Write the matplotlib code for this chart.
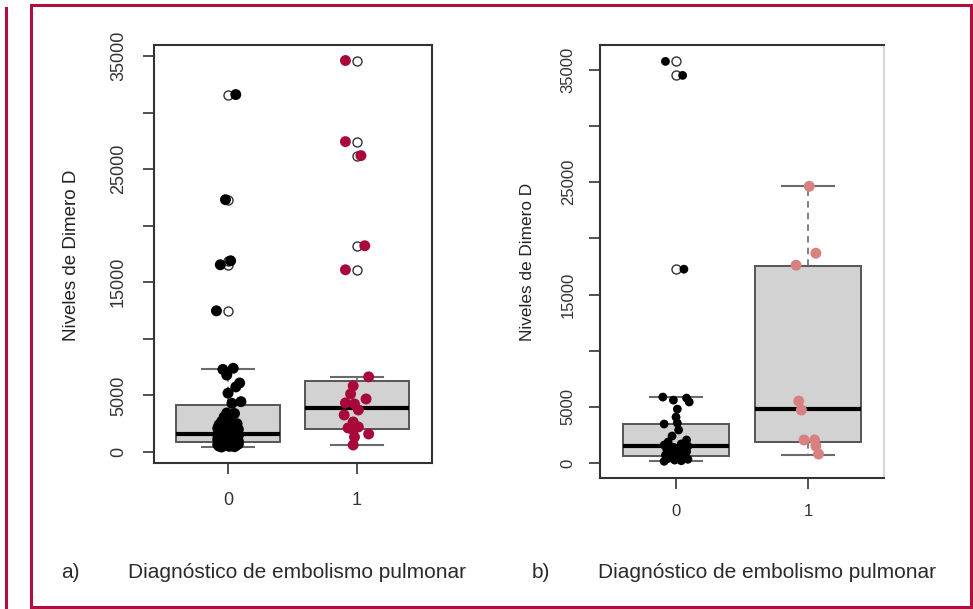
import matplotlib.pyplot as plt
from matplotlib.lines import Line2D
from matplotlib.patches import Rectangle

plt.rcParams['font.family'] = ['Liberation Sans', 'DejaVu Sans']

# ---- data ----
group_labels = ["0", "1"]
ytick_values = [0, 5000, 10000, 15000, 20000, 25000, 30000, 35000]
ytick_labels = ["0", "5000", "", "15000", "", "25000", "", "35000"]
caption = "Diagnóstico de embolismo pulmonar"
ylabel = "Niveles de Dimero D"

# panel a) box statistics (group 0, group 1)
a_whislo = [442, 620]
a_q1 = [885, 2035]
a_med = [1593, 3894]
a_q3 = [4159, 6283]
a_whishi = [7345, 6640]
a_outliers_0 = [31593, 22300, 16900, 16550, 12478]
a_outliers_1 = [34602, 27434, 26195, 18230, 16106]

# panel a) jittered points
a_vals_0 = [31593, 22300, 16900, 16550, 12478,
            7400, 7300, 6800, 6100, 5750, 5200, 4450, 4300,
            3450, 3400, 3100, 2900, 2700, 2500, 2400, 2200, 2100, 2000, 1900, 1800, 1700,
            1550, 1500, 1450, 1400, 1300, 1250, 1200, 1150, 1100, 1050, 1000, 950, 900,
            850, 800, 780, 750, 700, 650, 620, 600, 560, 520, 500, 470, 442]
a_jit_0 = [0.06, -0.02, 0.02, -0.06, -0.09,
           0.04, -0.04, -0.01, 0.09, 0.06, 0.0, 0.10, 0.03,
           -0.01, 0.05, -0.03, 0.02, -0.05, 0.07, -0.07, 0.01, -0.08, 0.08, -0.04, 0.05, -0.07,
           0.03, -0.08, 0.08, -0.02, 0.06, -0.06, 0.0, 0.07, -0.08, 0.04, -0.04, 0.08, -0.07,
           0.02, -0.06, 0.07, -0.01, 0.08, -0.08, 0.04, -0.03, 0.06, -0.07, 0.01, 0.05, -0.05]
a_vals_1 = [34602, 27434, 26195, 18230, 16106,
            6640, 5841, 5133, 4690, 4336, 4250, 3717, 3274, 2655, 2212,
            2124, 1947, 1593, 1327, 619]
a_jit_1 = [-0.09, -0.09, 0.03, 0.06, -0.09,
           0.09, -0.03, -0.05, 0.07, -0.09, -0.02, 0.01, -0.10, -0.03, 0.01,
           -0.07, -0.03, 0.09, -0.02, -0.03]

# panel b) box statistics
b_whislo = [150, 712]
b_q1 = [623, 1868]
b_med = [1512, 4804]
b_q3 = [3470, 17527]
b_whishi = [5872, 24644]
b_outliers_0 = [35765, 34520, 17260]
b_outliers_1 = []

# panel b) jittered points
b_vals_0 = [35765, 34520, 17260,
            5870, 5780, 5600, 5430, 4800, 4090, 3560, 3470, 2940, 2400, 2050, 1870,
            1700, 1600, 1500, 1400, 1300, 1200, 1100, 1000, 900, 800, 700, 620,
            550, 480, 400, 330, 260, 200, 150]
b_jit_0 = [-0.08, 0.05, 0.06,
           -0.10, 0.08, -0.02, 0.10, 0.01, 0.0, 0.01, -0.09, 0.02, -0.03, 0.08, -0.06,
           0.04, -0.09, 0.09, -0.02, 0.06, -0.07, 0.01, 0.08, -0.04, 0.05, -0.08, 0.02,
           -0.03, 0.07, -0.06, 0.09, -0.01, 0.04, -0.09]
b_vals_1 = [24644, 18683, 17616, 5516, 4716, 2046, 2046, 1512, 800]
b_jit_1 = [0.01, 0.06, -0.09, -0.07, -0.05, -0.03, 0.05, 0.06, 0.08]

crimson = "#b0103e"
red_pts = "#a8093a"
pink_pts = "#d98080"
W, H = 973, 609

fig = plt.figure(figsize=(W / 100, H / 100), dpi=100)


def add_axes_px(left, top, right, bottom):
    return fig.add_axes([left / W, 1 - bottom / H, (right - left) / W, (bottom - top) / H])


def draw_panel(ax, whislo, q1, med, q3, whishi, outliers, pts, colors, sizes, ylim, xlim,
               ylab_fs, xlab_fs, ypad, xpad):
    stats = []
    for i in range(2):
        stats.append(dict(whislo=whislo[i], q1=q1[i], med=med[i], q3=q3[i],
                          whishi=whishi[i], fliers=outliers[i], label=group_labels[i]))
    ax.bxp(stats, positions=[1, 2], widths=0.8, capwidths=0.4, patch_artist=True,
           boxprops=dict(facecolor="#d2d2d2", edgecolor="#555555", linewidth=1.4),
           medianprops=dict(color="black", linewidth=3),
           whiskerprops=dict(color="#6a6a6a", linewidth=1.2, linestyle=(0, (4, 3))),
           capprops=dict(color="#6a6a6a", linewidth=1.5),
           flierprops=dict(marker="o", markerfacecolor="none", markeredgecolor="#333333",
                           markersize=6.5, markeredgewidth=1),
           zorder=2)
    for g in range(2):
        vals, jit = pts[g]
        xs = [g + 1 + j for j in jit]
        ax.scatter(xs, vals, s=sizes[g], color=colors[g], edgecolors="none", zorder=3)

    ax.set_xlim(*xlim)
    ax.set_ylim(*ylim)
    ax.set_xticks([1, 2])
    ax.set_xticklabels(group_labels)
    ax.set_yticks(ytick_values)
    ax.set_yticklabels(ytick_labels, rotation=90, va="center")
    ax.tick_params(axis="y", length=8, width=1.2, color="#333333", labelsize=ylab_fs,
                   labelcolor="#333333", pad=ypad)
    ax.tick_params(axis="x", length=8, width=1.2, color="#333333", labelsize=xlab_fs,
                   labelcolor="#333333", pad=xpad)
    for sp in ax.spines.values():
        sp.set_color("#333333")
        sp.set_linewidth(1.5)


ax_a = add_axes_px(154, 45, 432, 463)
draw_panel(ax_a, a_whislo, a_q1, a_med, a_q3, a_whishi, [a_outliers_0, a_outliers_1],
           [(a_vals_0, a_jit_0), (a_vals_1, a_jit_1)], ["black", red_pts], [62, 62],
           (-972, 35973), (0.426, 2.581), 13, 13, 11.5, 13)

ax_b = add_axes_px(600, 45, 884, 478)
draw_panel(ax_b, b_whislo, b_q1, b_med, b_q3, b_whishi, [b_outliers_0, b_outliers_1],
           [(b_vals_0, b_jit_0), (b_vals_1, b_jit_1)], ["black", pink_pts], [40, 62],
           (-1336, 37226), (0.424, 2.576), 12, 12, 9.5, 11)
ax_b.spines["right"].set_color("#d8d8d8")
ax_b.xaxis.get_major_ticks()[1].tick1line.set_color("#c0c0c0")

# y axis titles
fig.text(72 / W, 1 - 255 / H, ylabel, rotation=90, ha="center", va="center",
         fontsize=13.5, color="#222222")
fig.text(527 / W, 1 - 262 / H, ylabel, rotation=90, ha="center", va="center",
         fontsize=12.4, color="#222222")

# captions
fig.text(61 / W, 1 - 578 / H, "a)", fontsize=15, va="baseline", color="#2a2a2a")
fig.text(128 / W, 1 - 578 / H, caption, fontsize=15, va="baseline", color="#2a2a2a")
fig.text(532 / W, 1 - 578 / H, "b)", fontsize=15, va="baseline", color="#2a2a2a")
fig.text(598 / W, 1 - 578 / H, caption, fontsize=15, va="baseline", color="#2a2a2a")

# crimson frame
fig.add_artist(Line2D([6 / W, 6 / W], [1 - 8 / H, 0], color=crimson, lw=2.2,
                      transform=fig.transFigure))
fig.add_artist(Rectangle((31 / W, 1 - 607 / H), (971 - 31) / W, (607 - 5) / H, fill=False,
                         edgecolor=crimson, lw=2.2, transform=fig.transFigure))

fig.savefig("out.png", dpi=100)
